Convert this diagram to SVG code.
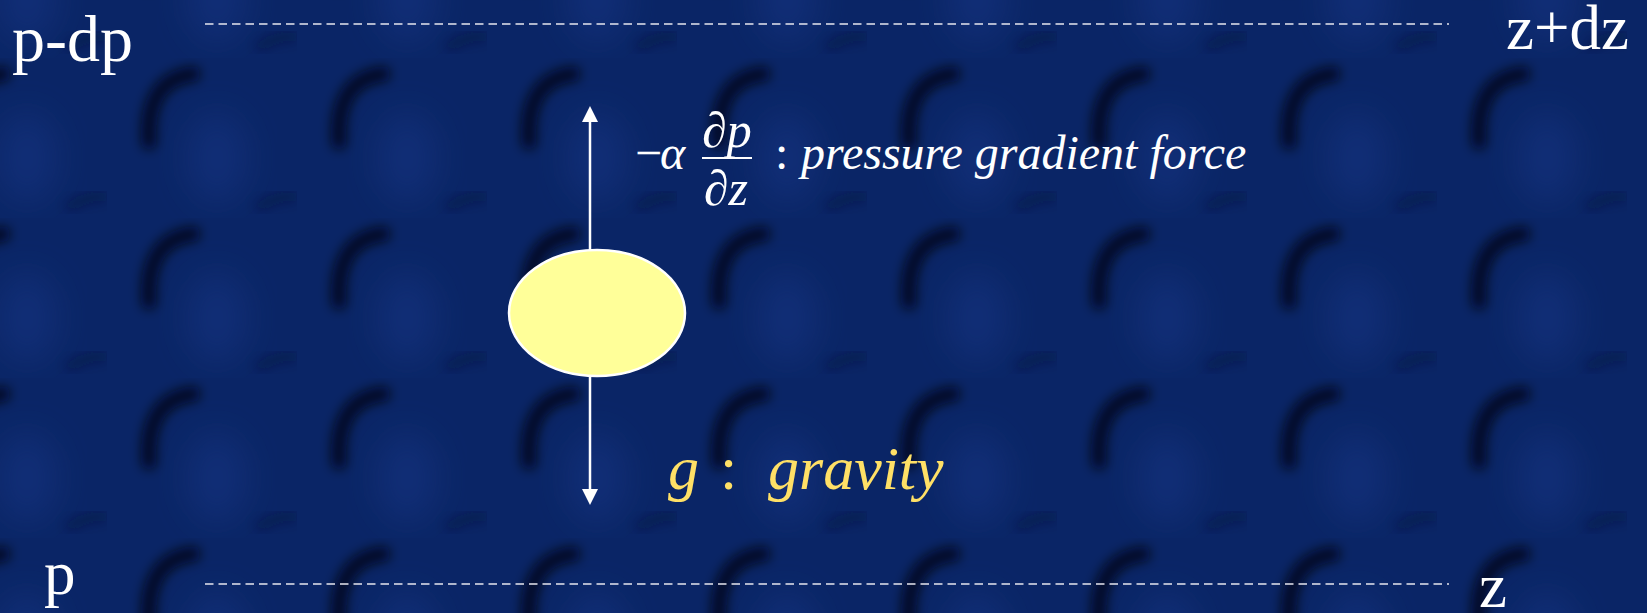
<svg xmlns="http://www.w3.org/2000/svg" width="1647" height="613" viewBox="0 0 1647 613">
  <style>
    .lbl { font-family: "Liberation Serif", "Times New Roman", serif; fill: #ffffff; font-size: 63px; }
    .big { font-size: 66px; }
    .math { font-family: "Liberation Serif", "Times New Roman", serif; fill: #ffffff; font-size: 48px; font-style: italic; }
    .frac { font-family: "Liberation Serif", "Times New Roman", serif; fill: #ffffff; font-size: 50px; font-style: italic; }
    .grav { font-family: "Liberation Serif", "Times New Roman", serif; fill: #FFE066; font-size: 62px; font-style: italic; }
    .dash { stroke: #e6e6ee; stroke-width: 1.6; stroke-dasharray: 8.5 5; fill: none; }
    .force { stroke: #ffffff; stroke-width: 2.5; fill: none; }
    .head { fill: #ffffff; }
  </style>
  <defs>
    <filter id="blur" x="-50%" y="-50%" width="200%" height="200%">
      <feGaussianBlur stdDeviation="6"/>
    </filter>
    <filter id="blur2" x="-50%" y="-50%" width="200%" height="200%">
      <feGaussianBlur stdDeviation="16"/>
    </filter>
    <pattern id="tex" patternUnits="userSpaceOnUse" x="-83" y="58" width="190" height="160">
      <rect width="190" height="160" fill="#0a2566"/>
      <ellipse cx="110" cy="100" rx="30" ry="45" fill="#1a3f9a" opacity="0.3" filter="url(#blur2)"/>
      <path d="M 42 84 Q 38 22 86 16" stroke="#01040f" stroke-width="15" fill="none" stroke-linecap="round" opacity="0.75" filter="url(#blur)"/>
      <path d="M 150 150 Q 175 135 190 140" stroke="#04102e" stroke-width="10" fill="none" opacity="0.4" filter="url(#blur)"/>
    </pattern>
  </defs>

  <rect id="background" x="0" y="0" width="1647" height="613" fill="url(#tex)"/>

  <g id="levels">
    <line class="dash" x1="205" y1="24" x2="1449" y2="24"/>
    <line class="dash" x1="205" y1="584" x2="1449" y2="584"/>
  </g>

  <g id="label-p-dp"><text class="lbl big" x="12" y="61">p-dp</text></g>
  <g id="label-z-dz"><text class="lbl" x="1506" y="49">z+dz</text></g>
  <g id="label-p"><text class="lbl" x="44" y="594">p</text></g>
  <g id="label-z"><text class="lbl" x="1479" y="607">z</text></g>

  <g id="connectors">
    <line class="force" x1="590" y1="120" x2="590" y2="250"/>
    <polygon class="head" points="590,106 582,122 598,122"/>
    <line class="force" x1="590" y1="376" x2="590" y2="490"/>
    <polygon class="head" points="590,505 582,489 598,489"/>
  </g>

  <g id="parcel">
    <ellipse cx="597" cy="313" rx="88" ry="63" fill="#FFFF99" stroke="#ffffff" stroke-width="2.5"/>
  </g>

  <g id="label-pgf">
    <text class="math" y="169"><tspan x="635" font-style="normal">−</tspan><tspan x="660">α</tspan></text>
    <text class="frac" x="727" y="147" text-anchor="middle">∂p</text>
    <line x1="702" y1="158" x2="752" y2="158" stroke="#ffffff" stroke-width="2"/>
    <text class="frac" x="726" y="205" text-anchor="middle">∂z</text>
    <text class="math" y="169"><tspan x="775" font-style="normal">:</tspan><tspan x="801">pressure gradient force</tspan></text>
  </g>

  <g id="label-gravity">
    <text class="grav" y="489"><tspan x="668">g</tspan><tspan x="720" font-style="normal">:</tspan><tspan x="768">gravity</tspan></text>
  </g>
</svg>
